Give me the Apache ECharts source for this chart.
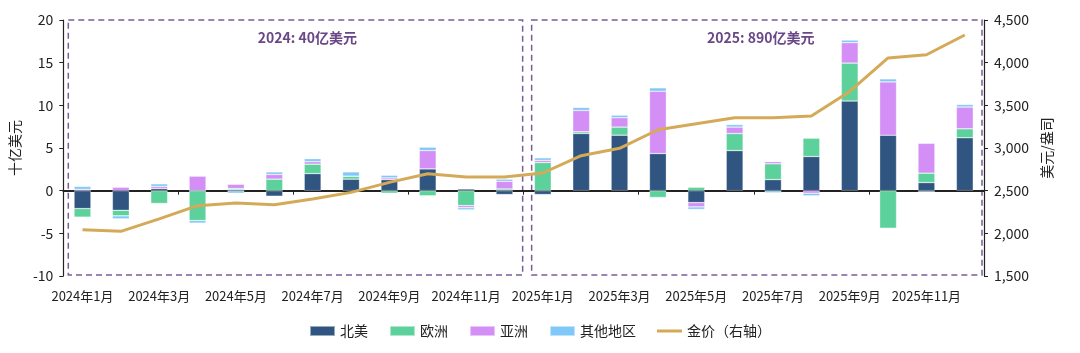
<!DOCTYPE html>
<html>
<head>
<meta charset="utf-8">
<script src="https://cdn.jsdelivr.net/npm/echarts@6/dist/echarts.min.js"></script>
<style>
  html, body { margin: 0; padding: 0; background: #fff; }
  #chart { width: 1080px; height: 353px; }
</style>
</head>
<body>
<div id="chart"></div>
<script>
// months, 2024-01 .. 2025-12
const months = [
  '2024年1月', '2024年2月', '2024年3月', '2024年4月', '2024年5月', '2024年6月',
  '2024年7月', '2024年8月', '2024年9月', '2024年10月', '2024年11月', '2024年12月',
  '2025年1月', '2025年2月', '2025年3月', '2025年4月', '2025年5月', '2025年6月',
  '2025年7月', '2025年8月', '2025年9月', '2025年10月', '2025年11月', '2025年12月'
]

// ETF flows, 十亿美元
const northAmerica = [-2.1, -2.3, 0.25, 0, 0.1, -0.65, 2.0, 1.35, 1.3, 2.55, 0.2, -0.45,
  -0.45, 6.7, 6.5, 4.35, -1.4, 4.7, 1.3, 4.0, 10.5, 6.5, 0.95, 6.2]
const europe = [-1.0, -0.65, -1.5, -3.5, 0.15, 1.35, 1.1, 0.35, -0.3, -0.6, -1.75, 0.2,
  3.3, 0.2, 0.95, -0.8, 0.4, 2.0, 1.85, 2.15, 4.45, -4.4, 1.1, 1.05]
const asia = [0.15, 0.4, 0.25, 1.7, 0.5, 0.55, 0.3, 0, 0.2, 2.15, -0.25, 0.9,
  0.25, 2.5, 1.1, 7.3, -0.5, 0.75, 0.25, -0.3, 2.4, 6.25, 3.5, 2.55]
const otherRegions = [0.35, -0.35, 0.3, -0.3, -0.3, 0.3, 0.35, 0.5, 0.3, 0.4, -0.25, 0.25,
  0.3, 0.35, 0.3, 0.4, -0.3, 0.3, -0.25, -0.3, 0.3, 0.35, -0.15, 0.3]

// 金价, 美元/盎司
const goldPrice = [2042, 2023, 2170, 2324, 2355, 2336, 2402, 2480, 2597, 2699, 2660, 2660,
  2707, 2910, 2996, 3214, 3285, 3355, 3355, 3375, 3663, 4055, 4093, 4324]

const leftTicks = { min: -10, max: 20, interval: 5 }
const rightTicks = { min: 1500, max: 4500, interval: 500 }

// annotation boxes: first / last month and label
const periods = [
  { from: '2024年1月', to: '2024年12月', label: '2024: 40亿美元' },
  { from: '2025年1月', to: '2025年12月', label: '2025: 890亿美元' }
]

const FONT = '"Noto Sans CJK SC", "Noto Sans", sans-serif'
const colors = {
  na: '#2f5580',
  eu: '#5dd19b',
  asia: '#d48ff6',
  other: '#80c8f8',
  gold: '#d4aa58',
  box: '#7a5c96',
  boxText: '#6a4888'
}

const chart = echarts.init(document.getElementById('chart'))

function barSeries(name, data, color) {
  return {
    name,
    type: 'bar',
    stack: 'flow',
    data,
    barWidth: '44%',
    itemStyle: { color, borderColor: 'rgba(255,255,255,0.5)', borderWidth: 0.6 }
  }
}

chart.setOption({
  animation: false,
  textStyle: { fontFamily: FONT },
  grid: { left: 62, right: 96, top: 20, bottom: 77 },
  legend: {
    bottom: 10,
    left: 'center',
    itemWidth: 25,
    itemHeight: 10,
    itemGap: 21,
    textStyle: { fontSize: 14, color: '#222', fontFamily: FONT },
    data: [
      { name: '北美', icon: 'rect' },
      { name: '欧洲', icon: 'rect' },
      { name: '亚洲', icon: 'rect' },
      { name: '其他地区', icon: 'rect' },
      { name: '金价（右轴）', icon: 'path://M0,0 L25,0 L25,3 L0,3 Z' }
    ]
  },
  xAxis: [
    {
      type: 'category',
      data: months,
      axisLine: { onZero: true, lineStyle: { color: '#222', width: 2 } },
      axisTick: { show: true, length: 4, lineStyle: { color: '#222' } },
      axisLabel: { show: false }
    },
    {
      type: 'category',
      data: months,
      position: 'bottom',
      axisLine: { show: false, onZero: false },
      axisTick: { show: false },
      axisLabel: { interval: 1, fontSize: 13, color: '#222', margin: 14, fontFamily: FONT }
    }
  ],
  yAxis: [
    {
      type: 'value',
      ...leftTicks,
      name: '十亿美元',
      nameLocation: 'middle',
      nameRotate: 90,
      nameGap: 40,
      nameTextStyle: { fontSize: 14, color: '#222' },
      axisLine: { show: true, lineStyle: { color: '#222', width: 1.2 } },
      axisTick: { show: true, length: 4, lineStyle: { color: '#222' } },
      axisLabel: { fontSize: 14, color: '#222', margin: 10 },
      splitLine: { show: false }
    },
    {
      type: 'value',
      ...rightTicks,
      position: 'right',
      name: '美元/盎司',
      nameLocation: 'middle',
      nameRotate: 90,
      nameGap: 56,
      nameTextStyle: { fontSize: 14, color: '#222' },
      axisLine: { show: true, lineStyle: { color: '#222', width: 1.2 } },
      axisTick: { show: true, length: 4, lineStyle: { color: '#222' } },
      axisLabel: {
        fontSize: 14, color: '#222', margin: 10,
        formatter: v => v.toLocaleString('en-US')
      },
      splitLine: { show: false }
    }
  ],
  series: [
    barSeries('北美', northAmerica, colors.na),
    barSeries('欧洲', europe, colors.eu),
    barSeries('亚洲', asia, colors.asia),
    barSeries('其他地区', otherRegions, colors.other),
    {
      name: '金价（右轴）',
      type: 'line',
      yAxisIndex: 1,
      data: goldPrice,
      symbol: 'none',
      lineStyle: { color: colors.gold, width: 3 },
      itemStyle: { color: colors.gold },
      z: 5
    }
  ]
})

// dashed period boxes, positioned from the axes
function drawPeriods() {
  const px = m => chart.convertToPixel({ xAxisIndex: 0 }, m)
  const band = px(months[1]) - px(months[0])
  const yTop = chart.convertToPixel({ yAxisIndex: 0 }, leftTicks.max)
  const yBot = chart.convertToPixel({ yAxisIndex: 0 }, leftTicks.min)
  const textShift = [12, 4] // labels sit a little right of box centre
  const elements = []
  periods.forEach((p, i) => {
    const x0 = px(p.from) - band / 2 + (i === 0 ? 5 : 8)
    const x1 = px(p.to) + band / 2 - (i === 0 ? 1 : 2)
    elements.push({
      type: 'rect',
      shape: { x: x0, y: yTop, width: x1 - x0, height: yBot - yTop - 1 },
      style: { fill: 'none', stroke: colors.box, lineWidth: 1.5, lineDash: [6, 4] },
      silent: true
    })
    elements.push({
      type: 'text',
      x: (x0 + x1) / 2 + textShift[i],
      y: yTop + 18,
      style: {
        text: p.label,
        fill: colors.boxText,
        font: 'bold 14px ' + FONT,
        align: 'center',
        verticalAlign: 'middle'
      },
      silent: true
    })
  })
  chart.setOption({ graphic: { elements } })
}
drawPeriods()

window.addEventListener('resize', () => {
  chart.resize()
  drawPeriods()
})
</script>
</body>
</html>
